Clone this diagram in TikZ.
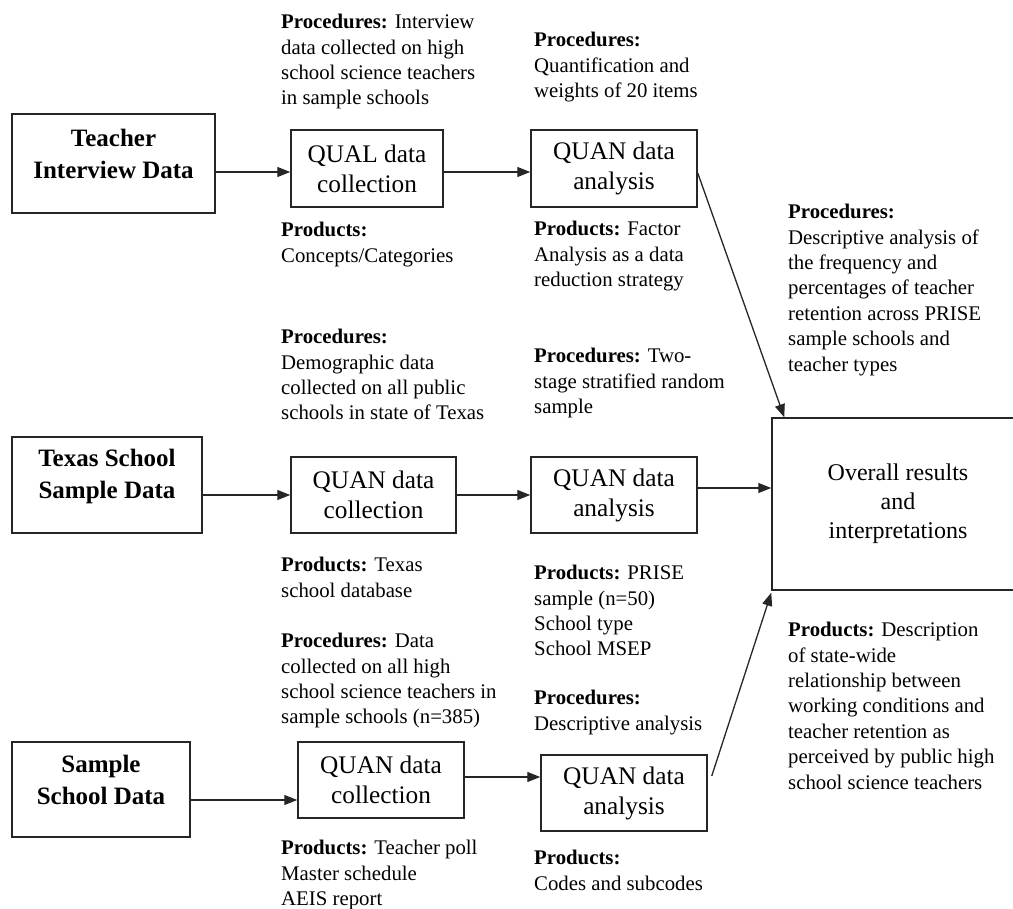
\documentclass[tikz,border=0pt]{standalone}
\usepackage{fontspec}
\setmainfont{Liberation Serif}
\usetikzlibrary{arrows.meta,calc}
\begin{document}
\begin{tikzpicture}[x=1pt,y=-1pt,
  box/.style={draw=black!85,line width=1.5pt,inner sep=0pt,align=center,font=\fontsize{25.3}{30}\selectfont},
  srcbox/.style={box,font=\fontsize{25}{32}\selectfont\bfseries,text depth=19pt},
  txt/.style={anchor=north west,inner sep=0pt,align=left,font=\fontsize{20.8}{25.4}\selectfont},
  arr/.style={draw=black!85,line width=1.3pt,-{Triangle[length=13pt,width=10pt]}}]
\clip (0,0) rectangle (1013,909);
\fill[white] (0,0) rectangle (1013,909);

% boxes
\node[srcbox,minimum width=203pt,minimum height=99pt] (teach) at (113.5,163.5) {Teacher\\Interview Data};
\node[box,minimum width=152pt,minimum height=77pt] (qual) at (367,168.5) {QUAL data\\collection};
\node[box,minimum width=166pt,minimum height=77pt] (ana1) at (614,168.5) {QUAN data\\analysis};

\node[srcbox,text depth=23pt,minimum width=190pt,minimum height=96pt] (texas) at (107,485) {Texas School\\Sample Data};
\node[box,minimum width=165pt,minimum height=76pt] (col2) at (373.5,495) {QUAN data\\collection};
\node[box,minimum width=166pt,minimum height=76pt] (ana2) at (614,495) {QUAN data\\analysis};

\node[box,font=\fontsize{24}{29}\selectfont,minimum width=252pt,minimum height=172pt] (overall) at (898,504) {Overall results\\and\\interpretations};

\node[srcbox,minimum width=178pt,minimum height=95pt] (sample) at (101,789.5) {Sample\\School Data};
\node[box,minimum width=166pt,minimum height=76pt] (col3) at (381,780) {QUAN data\\collection};
\node[box,minimum width=166pt,minimum height=76pt] (ana3) at (624,793) {QUAN data\\analysis};

% texts
\node[txt] (tA) at (281,14) {\textbf{Procedures:} Interview\\data collected on high\\school science teachers\\in sample schools};
\node[txt] (tB) at (281,222) {\textbf{Products:}\\Concepts/Categories};
\node[txt] (tC) at (534,32) {\textbf{Procedures:}\\Quantification and\\weights of 20 items};
\node[txt] (tD) at (534,221) {\textbf{Products:} Factor\\Analysis as a data\\reduction strategy};
\node[txt] (tE) at (788,204) {\textbf{Procedures:}\\Descriptive analysis of\\the frequency and\\percentages of teacher\\retention across PRISE\\sample schools and\\teacher types};
\node[txt] (tF) at (281,329) {\textbf{Procedures:}\\Demographic data\\collected on all public\\schools in state of Texas};
\node[txt] (tG) at (281,557) {\textbf{Products:} Texas\\school database};
\node[txt] (tH) at (534,348) {\textbf{Procedures:} Two-\\stage stratified random\\sample};
\node[txt] (tI) at (534,565) {\textbf{Products:} PRISE\\sample (n=50)\\School type\\School MSEP};
\node[txt] (tJ) at (534,690) {\textbf{Procedures:}\\Descriptive analysis};
\node[txt] (tK) at (534,850) {\textbf{Products:}\\Codes and subcodes};
\node[txt] (tL) at (281,633) {\textbf{Procedures:} Data\\collected on all high\\school science teachers in\\sample schools (n=385)};
\node[txt] (tM) at (281,840) {\textbf{Products:} Teacher poll\\Master schedule\\AEIS report};
\node[txt] (tN) at (788,622) {\textbf{Products:} Description\\of state-wide\\relationship between\\working conditions and\\teacher retention as\\perceived by public high\\school science teachers};

% connectors
\coordinate (q1) at ($(qual.west)+(0,3.5)$);
\draw[arr] (q1 -| teach.east) -- (q1);
\coordinate (a1) at ($(ana1.west)+(0,3.5)$);
\draw[arr] (a1 -| qual.east) -- (a1);

\draw[arr] (col2.west -| texas.east) -- (col2.west);
\draw[arr] (col2.east) -- (ana2.west);
\coordinate (a2o) at ($(ana2.east)+(0,-7)$);
\draw[arr] (a2o) -- (a2o -| overall.west);

\coordinate (s3) at ($(sample.east)+(0,10.5)$);
\draw[arr] (s3) -- (s3 -| col3.west);
\coordinate (c3) at ($(col3.east)+(0,-3)$);
\draw[arr] (c3) -- (c3 -| ana3.west);

\coordinate (e1) at ($(ana1.east)+(0,4.5)$);
\coordinate (o1) at ($(overall.north west)+(13,0)$);
\draw[arr] (e1) -- (o1);
\coordinate (e3) at ($(ana3.east)+(4,-17)$);
\coordinate (o3) at ($(overall.south west)+(0,2)$);
\draw[arr] (e3) -- (o3);
\end{tikzpicture}
\end{document}
